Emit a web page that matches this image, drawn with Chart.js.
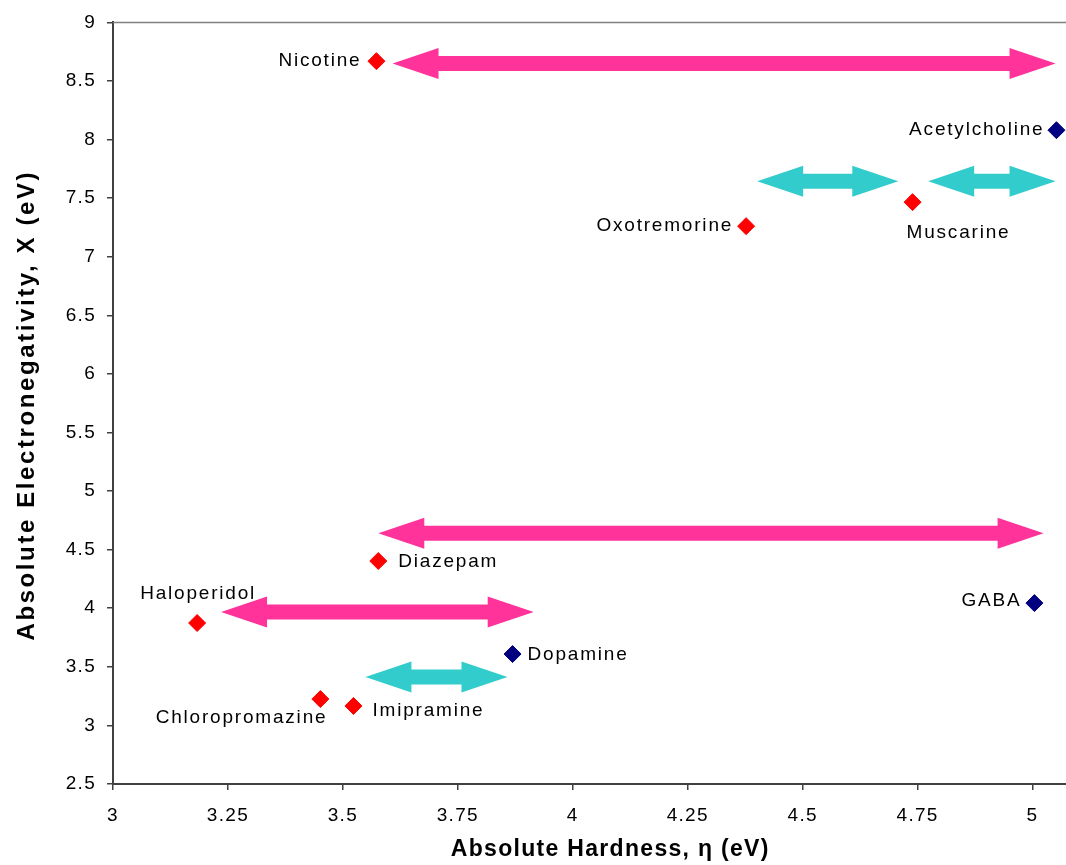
<!DOCTYPE html>
<html>
<head>
  <title>Absolute Hardness vs Absolute Electronegativity</title>
  <script src="https://cdn.jsdelivr.net/npm/chart.js"></script>
  <style>
    html, body { margin: 0; padding: 0; background: #fff; overflow: hidden; }
    #chartBox { width: 1117px; height: 865px; }
  </style>
</head>
<body>
  <div id="chartBox"><canvas id="myChart" width="1117" height="865"></canvas></div>

  <script>
    // drugs (red diamonds)
    const drugNames = ['Nicotine', 'Muscarine', 'Oxotremorine', 'Diazepam', 'Haloperidol', 'Chloropromazine', 'Imipramine'];
    const drugHardness = [3.573, 4.739, 4.377, 3.577, 3.183, 3.451, 3.523];
    const drugElectroneg = [8.669, 7.466, 7.261, 4.403, 3.874, 3.225, 3.166];

    // neurotransmitters (navy diamonds)
    const transNames = ['Acetylcholine', 'GABA', 'Dopamine'];
    const transHardness = [5.052, 5.004, 3.869];
    const transElectroneg = [8.08, 4.044, 3.609];

    // double arrows, in axis units
    const arrowFrom = [3.608, 4.401, 4.773, 3.577, 3.235, 3.549];
    const arrowTo = [5.050, 4.708, 5.050, 5.024, 3.915, 3.858];
    const arrowLevel = [8.650, 7.644, 7.644, 4.641, 3.967, 3.413];
    const arrowKind = ['pink', 'cyan', 'cyan', 'pink', 'pink', 'cyan'];

    const xTitle = 'Absolute Hardness, \u03b7 (eV)';
    const yTitle = 'Absolute Electronegativity, X (eV)';

    // where each name sits relative to its diamond: [align, dx, dy] in px
    const labelPlace = {
      'Nicotine': ['right', -15, 0],
      'Muscarine': ['left', -6, 31],
      'Oxotremorine': ['right', -13, 0],
      'Diazepam': ['left', 20, 1],
      'Haloperidol': ['center', 1, -29],
      'Chloropromazine': ['right', 7, 19],
      'Imipramine': ['left', 19, 5],
      'Acetylcholine': ['right', -12, 0],
      'GABA': ['right', -13, -2],
      'Dopamine': ['left', 15, 1]
    };
    const arrowColors = { pink: '#ff3399', cyan: '#33cccc' };

    const toPoints = (xs, ys) => xs.map((x, i) => ({ x: x, y: ys[i] }));

    const extras = {
      id: 'extras',
      beforeDraw(chart) {
        chart.ctx.letterSpacing = '1.3px';
      },
      beforeDatasetsDraw(chart) {
        const ctx = chart.ctx;
        const xs = chart.scales.x, ys = chart.scales.y;
        const head = 46, headHalf = 15.5, shaftHalf = 7.5;
        ctx.save();
        for (let i = 0; i < arrowFrom.length; i++) {
          const x1 = xs.getPixelForValue(arrowFrom[i]);
          const x2 = xs.getPixelForValue(arrowTo[i]);
          const y = ys.getPixelForValue(arrowLevel[i]);
          ctx.beginPath();
          ctx.moveTo(x1, y);
          ctx.lineTo(x1 + head, y - headHalf);
          ctx.lineTo(x1 + head, y - shaftHalf);
          ctx.lineTo(x2 - head, y - shaftHalf);
          ctx.lineTo(x2 - head, y - headHalf);
          ctx.lineTo(x2, y);
          ctx.lineTo(x2 - head, y + headHalf);
          ctx.lineTo(x2 - head, y + shaftHalf);
          ctx.lineTo(x1 + head, y + shaftHalf);
          ctx.lineTo(x1 + head, y + headHalf);
          ctx.closePath();
          ctx.fillStyle = arrowColors[arrowKind[i]];
          ctx.fill();
        }
        // top edge of the plot area
        const a = chart.chartArea;
        ctx.strokeStyle = '#808080';
        ctx.lineWidth = 1.5;
        ctx.beginPath();
        ctx.moveTo(a.left, a.top);
        ctx.lineTo(a.right, a.top);
        ctx.stroke();
        ctx.restore();
      },
      afterDraw(chart) {
        const ctx = chart.ctx;
        const a = chart.chartArea;
        ctx.save();
        ctx.fillStyle = '#000';
        ctx.textBaseline = 'middle';

        // point names
        ctx.font = '19px "Liberation Sans", Arial, sans-serif';
        ctx.letterSpacing = '1.8px';
        chart.data.datasets.forEach((ds, di) => {
          const meta = chart.getDatasetMeta(di);
          ds.names.forEach((name, i) => {
            const p = meta.data[i];
            const pl = labelPlace[name];
            ctx.textAlign = pl[0];
            ctx.fillText(name, p.x + pl[1], p.y + pl[2]);
          });
        });

        // axis titles
        ctx.textAlign = 'center';
        ctx.font = 'bold 23px "Liberation Sans", Arial, sans-serif';
        ctx.letterSpacing = '1.3px';
        ctx.fillText(xTitle, (a.left + a.right) / 2, a.bottom + 66);

        ctx.font = 'bold 24px "Liberation Sans", Arial, sans-serif';
        ctx.letterSpacing = '2.6px';
        ctx.translate(27, (a.top + a.bottom) / 2 + 2);
        ctx.rotate(-Math.PI / 2);
        ctx.fillText(yTitle, 0, 0);
        ctx.restore();
      }
    };

    Chart.defaults.font.family = '"Liberation Sans", Arial, sans-serif';
    Chart.defaults.font.size = 19;
    Chart.defaults.color = '#000';

    const ctx = document.getElementById('myChart').getContext('2d');
    const myChart = new Chart(ctx, {
      type: 'scatter',
      data: {
        datasets: [{
          label: 'drugs',
          names: drugNames,
          data: toPoints(drugHardness, drugElectroneg),
          pointStyle: 'rectRot',
          pointRadius: 8.5,
          backgroundColor: '#ff0000',
          borderColor: '#ff0000',
          borderWidth: 1
        }, {
          label: 'neurotransmitters',
          names: transNames,
          data: toPoints(transHardness, transElectroneg),
          pointStyle: 'rectRot',
          pointRadius: 8.5,
          backgroundColor: '#000080',
          borderColor: '#000080',
          borderWidth: 1
        }]
      },
      options: {
        responsive: false,
        animation: false,
        layout: { padding: { top: 22, right: 4, left: 0, bottom: 0 } },
        plugins: {
          legend: { display: false },
          tooltip: { enabled: false }
        },
        scales: {
          x: {
            type: 'linear',
            min: 3,
            max: 5.163,
            afterFit: s => { s.height = 81; },
            border: { display: true, color: '#404040', width: 2 },
            grid: { drawOnChartArea: false, drawTicks: true, tickLength: 6, color: '#404040', lineWidth: 1.5 },
            ticks: {
              stepSize: 0.25,
              includeBounds: false,
              padding: 14,
              callback: v => String(+v.toFixed(2))
            }
          },
          y: {
            type: 'linear',
            min: 2.5,
            max: 9,
            afterFit: s => { s.width = 113; },
            border: { display: true, color: '#404040', width: 2 },
            grid: { drawOnChartArea: false, drawTicks: true, tickLength: 6, color: '#404040', lineWidth: 1.5 },
            ticks: {
              stepSize: 0.5,
              padding: 11,
              callback: v => String(+v.toFixed(2))
            }
          }
        }
      },
      plugins: [extras]
    });
  </script>
</body>
</html>
